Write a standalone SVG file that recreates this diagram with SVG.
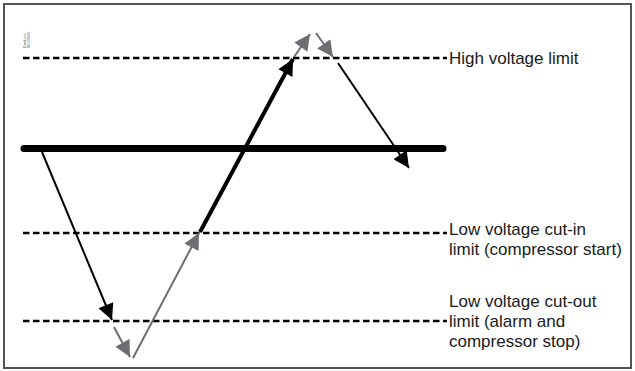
<svg xmlns="http://www.w3.org/2000/svg" width="635" height="371" viewBox="0 0 635 371">
<style>
.dash{stroke:#000;stroke-width:2.5;stroke-dasharray:6.5 3.5;fill:none}
.lbl{font-family:"Liberation Sans",Arial,sans-serif;font-size:17px;fill:#1a1a1a}
.blk{stroke:#000;fill:none}
.gry{stroke:#6d6e71;fill:none;stroke-width:2}
</style>
<defs>
<marker id="ab" viewBox="0 0 10 10" refX="10" refY="5" markerUnits="userSpaceOnUse" markerWidth="18" markerHeight="16" orient="auto"><path d="M0,0 L10,5 L0,10 z" fill="#000"/></marker>
<marker id="ag" viewBox="0 0 10 10" refX="10" refY="5" markerUnits="userSpaceOnUse" markerWidth="18" markerHeight="16" orient="auto"><path d="M0,0 L10,5 L0,10 z" fill="#6d6e71"/></marker>
</defs>
<rect x="0" y="0" width="635" height="371" fill="#fff"/>
<rect x="4" y="4" width="627" height="364" fill="none" stroke="#555" stroke-width="2"/>
<text transform="translate(26,48) rotate(-90)" font-family="Liberation Sans, sans-serif" font-size="4" fill="#666">Danfoss</text>
<text transform="translate(30,48) rotate(-90)" font-family="Liberation Sans, sans-serif" font-size="4" fill="#666">80G8066</text>
<g id="limits">
<line class="dash" x1="23" y1="58" x2="447" y2="58"/>
<line class="dash" x1="23" y1="233" x2="447" y2="233"/>
<line class="dash" x1="23" y1="321" x2="447" y2="321"/>
<line x1="24" y1="148.5" x2="443" y2="148.5" stroke="#000" stroke-width="7" stroke-linecap="round"/>
</g>
<g id="label-high"><text class="lbl" x="449" y="64">High voltage limit</text></g>
<g id="label-cutin"><text class="lbl" x="449" y="235">Low voltage cut-in</text><text class="lbl" x="449" y="255">limit (compressor start)</text></g>
<g id="label-cutout"><text class="lbl" x="449" y="307">Low voltage cut-out</text><text class="lbl" x="449" y="327">limit (alarm and</text><text class="lbl" x="449" y="347">compressor stop)</text></g>
<g id="connectors">
<line class="blk" stroke-width="2" x1="42" y1="152" x2="112" y2="320" marker-end="url(#ab)"/>
<line class="gry" x1="114" y1="327" x2="130" y2="357" marker-end="url(#ag)"/>
<line class="gry" x1="133" y1="358" x2="199" y2="233" marker-end="url(#ag)"/>
<line class="blk" stroke-width="4" x1="200" y1="232" x2="293" y2="59" marker-end="url(#ab)"/>
<line class="gry" x1="294" y1="57" x2="310" y2="34" marker-end="url(#ag)"/>
<line class="gry" x1="316" y1="33" x2="333" y2="57" marker-end="url(#ag)"/>
<line class="blk" stroke-width="2" x1="338" y1="63" x2="409" y2="168" marker-end="url(#ab)"/>
</g>
</svg>
